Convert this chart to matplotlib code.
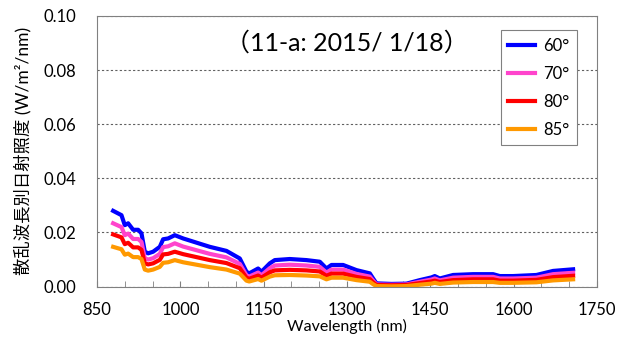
import matplotlib
matplotlib.use('Agg')
import matplotlib.pyplot as plt
from matplotlib.ticker import MultipleLocator

plt.rcParams['font.family'] = ['Lato', 'Noto Sans CJK JP', 'DejaVu Sans']

# wavelength (nm) and diffuse spectral irradiance (W/m2/nm) per zenith angle
wl = [879, 894, 900, 906, 915, 924, 930, 936, 942, 951, 963, 969, 978, 990, 1005,
      1053, 1083, 1107, 1119, 1124, 1140, 1146, 1161, 1170, 1197, 1227, 1251, 1263,
      1272, 1293, 1317, 1341, 1347, 1353, 1380, 1407, 1431, 1452, 1458, 1467, 1491,
      1527, 1563, 1575, 1599, 1641, 1671, 1707]
deg60 = [0.0280, 0.0264, 0.0227, 0.0234, 0.0210, 0.0210, 0.0197, 0.0129, 0.0123, 0.0129,
         0.0147, 0.0175, 0.0178, 0.0190, 0.0178, 0.0147, 0.0132, 0.0104, 0.0055, 0.0049,
         0.0067, 0.0055, 0.0086, 0.0098, 0.0102, 0.0098, 0.0092, 0.0067, 0.0080, 0.0080,
         0.0061, 0.0049, 0.0030, 0.0012, 0.0010, 0.0011, 0.0024, 0.0034, 0.0039, 0.0030,
         0.0043, 0.0046, 0.0046, 0.0039, 0.0039, 0.0043, 0.0058, 0.0064]
deg70 = [0.0234, 0.0220, 0.0190, 0.0196, 0.0176, 0.0176, 0.0165, 0.0105, 0.0100, 0.0105,
         0.0121, 0.0146, 0.0149, 0.0160, 0.0148, 0.0121, 0.0108, 0.0084, 0.0042, 0.0037,
         0.0052, 0.0042, 0.0068, 0.0078, 0.0081, 0.0078, 0.0073, 0.0052, 0.0063, 0.0063,
         0.0047, 0.0037, 0.0022, 0.0008, 0.0007, 0.0008, 0.0018, 0.0026, 0.0030, 0.0023,
         0.0033, 0.0036, 0.0036, 0.0030, 0.0030, 0.0033, 0.0046, 0.0051]
deg80 = [0.0193, 0.0182, 0.0157, 0.0162, 0.0145, 0.0145, 0.0136, 0.0086, 0.0082, 0.0086,
         0.0099, 0.0119, 0.0121, 0.0129, 0.0120, 0.0098, 0.0087, 0.0068, 0.0033, 0.0029,
         0.0041, 0.0033, 0.0053, 0.0060, 0.0062, 0.0060, 0.0056, 0.0040, 0.0048, 0.0048,
         0.0036, 0.0028, 0.0016, 0.0006, 0.0005, 0.0006, 0.0013, 0.0019, 0.0022, 0.0017,
         0.0024, 0.0027, 0.0027, 0.0022, 0.0022, 0.0025, 0.0035, 0.0040]
deg85 = [0.0147, 0.0138, 0.0118, 0.0122, 0.0109, 0.0109, 0.0102, 0.0063, 0.0059, 0.0063,
         0.0073, 0.0088, 0.0090, 0.0098, 0.0090, 0.0072, 0.0063, 0.0048, 0.0022, 0.0019,
         0.0028, 0.0022, 0.0037, 0.0042, 0.0043, 0.0041, 0.0038, 0.0027, 0.0033, 0.0033,
         0.0024, 0.0018, 0.0009, 0.0002, 0.0001, 0.0002, 0.0007, 0.0011, 0.0014, 0.0010,
         0.0015, 0.0017, 0.0017, 0.0014, 0.0014, 0.0016, 0.0023, 0.0027]
labels = ['60°', '70°', '80°', '85°']
colors = ['#0000ff', '#ff44cc', '#ff0000', '#ff9900']

fig = plt.figure(figsize=(6.18, 3.4), dpi=100)
ax = fig.add_axes([0.157, 0.157, 0.809, 0.796])

for ys, lab, c in zip([deg60, deg70, deg80, deg85], labels, colors):
    ax.plot(wl, ys, color=c, lw=3, label=lab, solid_joinstyle='round')

ax.set_xlim(850, 1750)
ax.set_ylim(0, 0.10)
ax.set_xticks([850, 1000, 1150, 1300, 1450, 1600, 1750])
ax.xaxis.set_minor_locator(MultipleLocator(50))
ax.set_yticks([0, 0.02, 0.04, 0.06, 0.08, 0.10])
ax.set_yticklabels(['%.2f' % v for v in ax.get_yticks()])
ax.tick_params(axis='x', which='both', direction='in', length=4, color='#808080',
               labelsize=12, pad=11)
ax.tick_params(axis='y', length=0, labelsize=12, pad=15)
ax.grid(axis='y', linestyle=(0, (2, 2)), color='#606060', lw=0.8)
for s in ax.spines.values():
    s.set_color('#808080')

ax.set_xlabel('Wavelength (nm)', fontsize=11.5, labelpad=1)
ax.set_ylabel('散乱波長別日射照度 (W/m²/nm)', fontsize=12.5, labelpad=9)
ax.text(0.5, 0.9, '（11-a: 2015/ 1/18）', transform=ax.transAxes,
        ha='center', va='center', fontsize=18)

leg = ax.legend(loc='upper right', bbox_to_anchor=(0.96, 0.948), borderaxespad=0,
                fontsize=12, fancybox=False, framealpha=1, edgecolor='#808080',
                handlelength=1.6, handletextpad=0.5, labelspacing=0.72,
                borderpad=0.45)
leg.get_frame().set_linewidth(0.8)

fig.savefig('out.png', dpi=100)
